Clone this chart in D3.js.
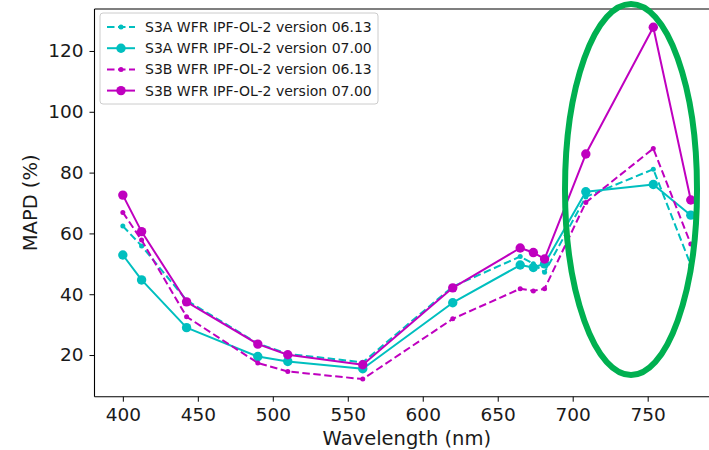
<!DOCTYPE html>
<html>
<head>
<meta charset="utf-8">
<script src="https://cdn.jsdelivr.net/npm/d3@7"></script>
<style>
  html, body { margin: 0; padding: 0; background: #fff; }
  svg { display: block; font-family: "DejaVu Sans", sans-serif; }
</style>
</head>
<body>
<svg id="chart" width="709" height="450"></svg>
<script>
// OLCI band centre wavelengths (nm)
const wavelengths = [400, 412.5, 442.5, 490, 510, 560, 620, 665, 673.75, 681.25, 708.75, 753.75, 778.75];

// MAPD (%) per band for each sensor / processor version
const s3a_0613 = [62.4, 55.9, 38.0, 23.8, 20.4, 17.6, 42.5, 52.4, 50.0, 47.2, 72.0, 81.1, 49.6];
const s3a_0700 = [52.9, 44.7, 29.0, 19.5, 17.9, 15.5, 37.2, 49.6, 48.8, 50.0, 73.7, 76.1, 66.0];
const s3b_0613 = [66.9, 57.8, 32.6, 17.4, 14.6, 12.1, 31.9, 41.8, 41.1, 41.8, 70.2, 87.9, 56.5];
const s3b_0700 = [72.6, 60.6, 37.5, 23.6, 20.1, 16.8, 42.1, 55.2, 53.7, 51.6, 86.1, 127.8, 71.0];

const seriesNames = [
  "S3A WFR IPF-OL-2 version 06.13",
  "S3A WFR IPF-OL-2 version 07.00",
  "S3B WFR IPF-OL-2 version 06.13",
  "S3B WFR IPF-OL-2 version 07.00"
];

const xTicks = [400, 450, 500, 550, 600, 650, 700, 750];
const yTicks = [20, 40, 60, 80, 100, 120];

const cyan = "#00bfbf";
const magenta = "#bf00bf";

const series = [
  { name: seriesNames[0], values: s3a_0613, color: cyan,    dashed: true,  r: 2.5 },
  { name: seriesNames[1], values: s3a_0700, color: cyan,    dashed: false, r: 4.7 },
  { name: seriesNames[2], values: s3b_0613, color: magenta, dashed: true,  r: 2.5 },
  { name: seriesNames[3], values: s3b_0700, color: magenta, dashed: false, r: 4.7 }
];

const svg = d3.select("#chart");

const plot = { left: 94.5, right: 719.2, top: 9, bottom: 396.7 };

const x = d3.scaleLinear().domain([381.1, 797.7]).range([plot.left, plot.right]);
const y = d3.scaleLinear().domain([6.3, 133.8]).range([plot.bottom, plot.top]);

// axes
const xAxis = d3.axisBottom(x).tickValues(xTicks).tickSize(5).tickPadding(6).tickFormat(d3.format("d"));
const yAxis = d3.axisLeft(y).tickValues(yTicks).tickSize(5).tickPadding(6).tickFormat(d3.format("d"));

const gx = svg.append("g").attr("transform", `translate(0,${plot.bottom})`).call(xAxis);
const gy = svg.append("g").attr("transform", `translate(${plot.left},0)`).call(yAxis);

[gx, gy].forEach(g => {
  g.select(".domain").remove();
  g.selectAll(".tick line").attr("stroke", "#000").attr("stroke-width", 1);
  g.selectAll(".tick text").attr("fill", "#1a1a1a").style("font-size", "18.5px")
    .style("font-family", "DejaVu Sans, sans-serif");
});

// spines
const spines = svg.append("g").attr("stroke", "#000").attr("stroke-width", 1.1).attr("fill", "none");
spines.append("line").attr("x1", plot.left).attr("x2", plot.right).attr("y1", plot.bottom).attr("y2", plot.bottom);
spines.append("line").attr("x1", plot.left).attr("x2", plot.right).attr("y1", plot.top).attr("y2", plot.top);
spines.append("line").attr("x1", plot.left).attr("x2", plot.left).attr("y1", plot.top).attr("y2", plot.bottom);
spines.append("line").attr("x1", plot.right).attr("x2", plot.right).attr("y1", plot.top).attr("y2", plot.bottom);

// axis titles
svg.append("text")
  .attr("x", (plot.left + plot.right) / 2)
  .attr("y", 445)
  .attr("text-anchor", "middle")
  .style("font-size", "19.5px")
  .attr("fill", "#1a1a1a")
  .text("Wavelength (nm)");

svg.append("text")
  .attr("transform", `translate(37,${(plot.top + plot.bottom) / 2}) rotate(-90)`)
  .attr("text-anchor", "middle")
  .style("font-size", "19.5px")
  .attr("fill", "#1a1a1a")
  .text("MAPD (%)");

// series lines and markers
const line = d3.line().x((d, i) => x(wavelengths[i])).y(d => y(d));

series.forEach(s => {
  const g = svg.append("g");
  g.append("path")
    .datum(s.values)
    .attr("d", line)
    .attr("fill", "none")
    .attr("stroke", s.color)
    .attr("stroke-width", 2)
    .attr("stroke-dasharray", s.dashed ? "7.5,3.5" : null)
    .attr("stroke-linejoin", "round");
  g.selectAll("circle")
    .data(s.values)
    .join("circle")
    .attr("cx", (d, i) => x(wavelengths[i]))
    .attr("cy", d => y(d))
    .attr("r", s.r)
    .attr("fill", s.color);
});

// legend
const legend = svg.append("g").attr("transform", "translate(100,13)");
legend.append("rect")
  .attr("width", 278).attr("height", 91)
  .attr("rx", 3).attr("ry", 3)
  .attr("fill", "#fff").attr("fill-opacity", 0.8)
  .attr("stroke", "#cccccc").attr("stroke-width", 1);

series.forEach((s, i) => {
  const ly = 14 + i * 21.2;
  const row = legend.append("g").attr("transform", `translate(0,${ly})`);
  row.append("line")
    .attr("x1", 7).attr("x2", 35).attr("y1", 0).attr("y2", 0)
    .attr("stroke", s.color).attr("stroke-width", 2)
    .attr("stroke-dasharray", s.dashed ? "7.5,3.5" : null);
  row.append("circle").attr("cx", 21).attr("cy", 0).attr("r", s.r).attr("fill", s.color);
  row.append("text")
    .attr("x", 45).attr("y", 0).attr("dy", "0.35em")
    .style("font-size", "14px")
    .attr("fill", "#1a1a1a")
    .text(s.name);
});

// highlight of the red-edge / NIR bands
svg.append("ellipse")
  .attr("cx", 631).attr("cy", 189.5)
  .attr("rx", 66).attr("ry", 185.5)
  .attr("fill", "none")
  .attr("stroke", "#00b050")
  .attr("stroke-width", 6);
</script>
</body>
</html>
